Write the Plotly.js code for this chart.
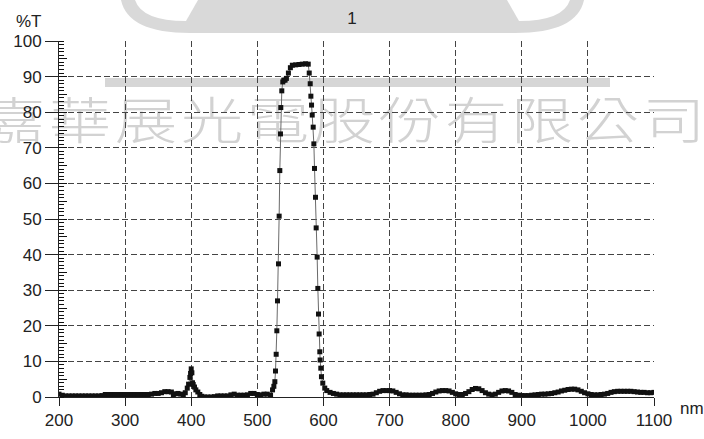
<!DOCTYPE html>
<html>
<head>
<meta charset="utf-8">
<script src="https://cdn.plot.ly/plotly-3.0.1.min.js"></script>
<style>
  html, body { margin: 0; padding: 0; background: #ffffff; }
  #wrap { position: relative; width: 704px; height: 439px; overflow: hidden; }
  #wm { position: absolute; left: 0; top: 0; width: 704px; height: 439px; z-index: 0; }
  #wm span { position: absolute; font-family: "Noto Sans CJK TC", "Noto Sans CJK SC", sans-serif; font-weight: 300; color: #d2d2d2; font-size: 50px; line-height: 1; transform: translate(-50%, -50%) scaleX(1.25); }
  #chart { position: absolute; left: 0; top: 0; width: 704px; height: 439px; z-index: 1; }
</style>
</head>
<body>
<div id="wrap">
  <div id="wm"></div>
  <div id="chart"></div>
</div>
<script>
// ---- data ----
const wavelength = [
  200,205,210,215,220,225,230,235,240,245,250,255,260,265,270,275,280,285,290,295,
  300,305,310,315,320,325,330,335,340,345,350,355,360,365,370,373,376,380,384,388,
  391,394,396,398,399,400,401,402,403,405,407,410,413,416,420,425,430,435,440,445,
  450,455,460,465,470,475,480,485,490,495,500,505,510,515,520,
  523,525,526.5,527.5,528.5,529.5,530.5,532,533,534,535,535.5,537,538.5,540,542,544,547,550,553,
  558,563,568,573,577,578.5,580,581,582,583,584.5,585.5,586.5,588,589,590.5,591.5,592.5,593.5,594.5,
  595,596,597,599,602,605,610,615,
  620,625,630,635,640,645,650,655,660,665,670,675,680,685,690,695,700,705,710,715,
  720,725,730,735,740,745,750,755,760,765,770,775,780,785,790,795,800,805,810,815,
  820,825,830,835,840,845,850,855,860,865,870,875,880,885,890,895,900,905,910,915,
  920,925,930,935,940,945,950,955,960,965,970,975,980,985,990,995,1000,1005,1010,1015,
  1020,1025,1030,1035,1040,1045,1050,1055,1060,1065,1070,1075,1080,1085,1090,1095,1100
];
const transmittance = [
  0.8,0.5,0.3,0.3,0.3,0.3,0.3,0.3,0.3,0.3,0.3,0.3,0.3,0.4,0.7,0.7,0.7,0.7,0.7,0.7,
  0.7,0.7,0.7,0.7,0.7,0.7,0.7,0.7,0.8,1.0,1.0,1.2,1.5,1.5,1.4,0.6,0.9,1.0,0.8,0.5,
  1.2,2.5,3.6,5.5,6.6,7.9,6.8,4.0,3.5,2.8,2.0,1.4,0.7,0.2,0.0,0.0,0.0,0.1,0.3,0.3,
  0.3,0.3,0.6,0.8,0.5,0.5,0.5,0.6,1.0,1.0,0.7,0.6,0.8,0.8,0.5,
  2.0,3.0,4.3,7.3,12,18.6,27,37.4,50.8,63.6,73.9,81.3,86,88.5,89,89,89.5,91,92.5,93.2,
  93.3,93.4,93.5,93.6,93.5,91,88,84.5,82,79.2,75.8,71.1,64.2,56.1,47.5,39.3,30.5,23.3,17.7,12.7,
  10.4,8.1,5.7,3.9,2.5,1.8,1.3,1.0,
  0.8,0.6,0.6,0.6,0.6,0.6,0.6,0.6,0.6,0.6,0.7,0.8,1.2,1.6,1.8,1.8,1.8,1.7,1.3,0.9,
  0.6,0.6,0.5,0.5,0.5,0.5,0.5,0.6,0.7,1.0,1.4,1.7,1.8,1.8,1.7,1.3,0.9,0.7,0.7,1.0,
  1.5,2.1,2.4,2.3,1.8,1.2,0.8,0.6,0.8,1.3,1.7,1.8,1.7,1.3,0.7,0.5,0.4,0.4,0.4,0.5,
  0.6,0.7,0.8,0.8,0.9,1.0,1.2,1.4,1.7,1.9,2.1,2.2,2.2,2.0,1.6,1.2,0.9,0.7,0.6,0.6,
  0.7,0.8,1.0,1.3,1.5,1.6,1.6,1.6,1.6,1.6,1.5,1.4,1.3,1.3,1.2,1.2,1.3
];
const xTickValues = [200,300,400,500,600,700,800,900,1000,1100];
const yTickValues = [0,10,20,30,40,50,60,70,80,90,100];
const chartTitle = '1';
const yUnit = '%T';
const xUnit = 'nm';
const watermarkChars = ['嘉','華','展','光','電','股','份','有','限','公','司'];

// ---- layout helpers (decoration positions, pixels -> paper) ----
const PL = 59, PR = 654, PT = 41, PB = 397;
const px = p => (p - PL) / (PR - PL);
const py = p => (PB - p) / (PB - PT);

// watermark text (behind the plot)
const wm = document.getElementById('wm');
watermarkChars.forEach((c, i) => {
  const s = document.createElement('span');
  s.textContent = c;
  s.style.left = (14 + 66 * i) + 'px';
  s.style.top = '117px';
  wm.appendChild(s);
});

const trace = {
  x: wavelength,
  y: transmittance,
  type: 'scatter',
  mode: 'lines+markers',
  line: { color: '#6a6a6a', width: 1 },
  marker: { symbol: 'square', size: 5, color: '#111111' },
  hoverinfo: 'skip',
  showlegend: false
};
const trace2 = { x: [xTickValues[0], xTickValues[xTickValues.length - 1]], y: [yTickValues[0], yTickValues[0]], yaxis: 'y2', mode: 'markers', marker: { opacity: 0, size: 1 }, showlegend: false, hoverinfo: 'skip' };

const logoPath = 'M ' + px(121) + ' ' + py(0) + ' Q ' + px(128) + ' ' + py(33) + ' ' + px(190) + ' ' + py(33) +
  ' L ' + px(515) + ' ' + py(33) + ' Q ' + px(577) + ' ' + py(33) + ' ' + px(584) + ' ' + py(0) + ' Z';
const pocketL = 'M ' + px(135) + ' ' + py(0) + ' Q ' + px(142) + ' ' + py(21) + ' ' + px(186) + ' ' + py(21) +
  ' L ' + px(198) + ' ' + py(0) + ' Z';
const pocketR = 'M ' + px(570) + ' ' + py(0) + ' Q ' + px(563) + ' ' + py(21) + ' ' + px(519) + ' ' + py(21) +
  ' L ' + px(507) + ' ' + py(0) + ' Z';

const font = { family: 'Liberation Sans, Arial, sans-serif', size: 17, color: '#222222' };

const layout = {
  width: 704, height: 439,
  margin: { l: PL, r: 704 - PR, t: PT, b: 439 - PB, pad: 0 },
  paper_bgcolor: 'rgba(0,0,0,0)',
  plot_bgcolor: 'rgba(0,0,0,0)',
  font: font,
  showlegend: false,
  title: { text: chartTitle, font: font, x: 0.5, xref: 'container', xanchor: 'center', y: 1 - 18 / 439, yref: 'container', yanchor: 'middle' },
  xaxis: {
    range: [200, 1100], tickmode: 'array', tickvals: xTickValues,
    showgrid: true, gridcolor: '#444444', gridwidth: 1, griddash: '6px,3px',
    showline: true, linecolor: '#222222', linewidth: 1,
    ticks: 'outside', ticklen: 8, tickcolor: '#222222', tickwidth: 1,
    zeroline: false, tickfont: font
  },
  yaxis: {
    range: [0, 100], tickmode: 'linear', tick0: 0, dtick: 10,
    showgrid: true, gridcolor: '#444444', gridwidth: 1, griddash: '6px,3px',
    showline: true, linecolor: '#222222', linewidth: 1,
    ticks: 'outside', ticklen: 13, tickcolor: '#222222', tickwidth: 1,
    minor: { dtick: 1, ticks: 'inside', ticklen: 5, tickcolor: '#111111', tickwidth: 1 },
    zeroline: false, tickfont: font
  },
  yaxis2: {
    range: [0, 100], overlaying: 'y', anchor: 'x', side: 'left', dtick: 5,
    ticks: 'inside', ticklen: 8, tickcolor: '#111111', tickwidth: 1,
    showticklabels: false, showgrid: false, zeroline: false
  },
  shapes: [
    { type: 'path', xref: 'paper', yref: 'paper', path: logoPath, fillcolor: '#d9d9d9', line: { width: 0 }, layer: 'below' },
    { type: 'path', xref: 'paper', yref: 'paper', path: pocketL, fillcolor: '#ffffff', line: { width: 0 }, layer: 'below' },
    { type: 'path', xref: 'paper', yref: 'paper', path: pocketR, fillcolor: '#ffffff', line: { width: 0 }, layer: 'below' },
    { type: 'rect', xref: 'paper', yref: 'paper', x0: px(105), x1: px(610), y0: py(87), y1: py(78), fillcolor: '#d6d6d6', line: { width: 0 }, layer: 'below' }
  ],
  annotations: [
    { text: yUnit, xref: 'paper', yref: 'paper', x: px(29), y: py(21), xanchor: 'center', yanchor: 'middle', showarrow: false, font: font },
    { text: xUnit, xref: 'paper', yref: 'paper', x: px(692), y: py(408), xanchor: 'center', yanchor: 'middle', showarrow: false, font: font }
  ]
};

Plotly.newPlot('chart', [trace, trace2], layout, { displayModeBar: false, staticPlot: true });
</script>
</body>
</html>
